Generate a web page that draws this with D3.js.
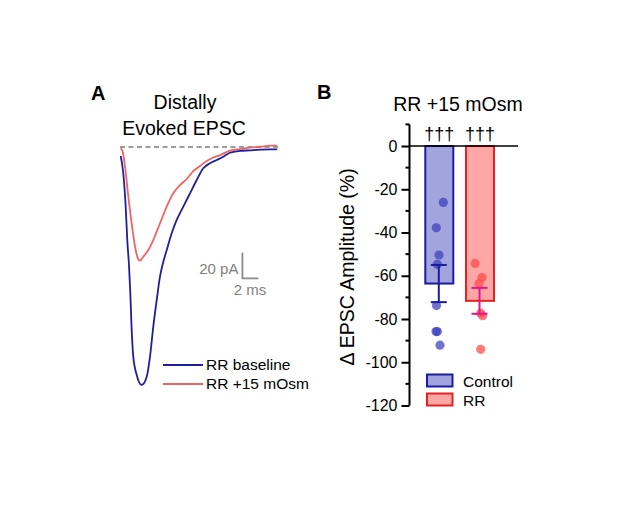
<!DOCTYPE html>
<html><head><meta charset="utf-8">
<script src="https://cdn.jsdelivr.net/npm/d3@7"></script>
<style>body{margin:0;background:#fff}svg{display:block;background:#fff}text{font-family:"Liberation Sans",Arial,sans-serif}</style>
</head><body><svg id="c" width="617" height="505"></svg>
<script>
// ---------- Panel A data (time in ms, current in pA) ----------
const baselineTime = [0.09,0.41,0.71,0.91,1.12,1.29,1.44,1.66,2.09,2.71,3.34,3.75,4.16,4.59,5.0,5.31,5.84,6.46,7.09,7.91,8.75,9.59,10.41,11.25,12.09,12.91,13.75,15.0,16.25,17.5,18.75,19.66];
const baselineCurrent = [-7.0,-20.5,-46.6,-72.7,-92.2,-114.0,-139.8,-163.8,-178.1,-185.9,-179.5,-163.8,-140.4,-119.5,-101.3,-92.2,-80.5,-67.4,-57.0,-46.6,-36.2,-25.8,-16.6,-12.7,-10.2,-7.6,-4.5,-3.1,-2.6,-2.1,-1.8,-1.8];
const osmTime = [0.09,0.34,0.63,1.04,1.46,1.88,2.29,2.5,2.91,3.54,4.16,5.0,5.84,6.66,7.5,8.34,9.16,10.0,10.84,11.66,12.5,13.75,15.0,16.25,17.5,18.75,19.66];
const osmCurrent = [-1.0,-3.7,-15.4,-38.8,-59.6,-77.9,-87.7,-88.8,-85.7,-80.5,-72.7,-59.6,-46.6,-36.2,-29.7,-25.0,-18.8,-14.8,-10.9,-8.2,-6.3,-2.9,-1.6,-0.5,0.2,1.0,1.0];
const traceLabels = ["RR baseline", "RR +15 mOsm"];
const scaleBarTime = 2;      // ms
const scaleBarCurrent = 20;  // pA
const panelATitle = ["Distally", "Evoked EPSC"];

// ---------- Panel B data (% change in EPSC amplitude) ----------
const groups = ["Control", "RR"];
const meanChange = [-63.6, -71.6];
const semChange = [8.6, 6.0];
const controlCells = [-26.1, -37.8, -50.4, -54.7, -73.8, -85.8, -85.8, -92.1];
const rrCells = [-54.3, -60.8, -63.6, -77.3, -78.5, -94.0];
const yTicks = [0, -20, -40, -60, -80, -100, -120];
const yTickLabels = ["0", "-20", "-40", "-60", "-80", "-100", "-120"];
const significance = ["\u2020\u2020\u2020", "\u2020\u2020\u2020"];
const panelBTitle = "RR +15 mOsm";
const yLabel = "\u0394 EPSC Amplitude (%)";

const svg = d3.select("#c");

// ================= Panel A =================
const xA = d3.scaleLinear().domain([0, 20]).range([120, 280]);
const yA = d3.scaleLinear().domain([0, -100]).range([147, 275]);
const blue = "#1f1f9c", red = "#f06464";

svg.append("text").attr("x", 91).attr("y", 100).attr("font-size", 20).attr("font-weight", "bold").text("A");
svg.append("text").attr("x", 185).attr("y", 109).attr("font-size", 19.5).attr("text-anchor", "middle").text(panelATitle[0]);
svg.append("text").attr("x", 184).attr("y", 135).attr("font-size", 19.5).attr("text-anchor", "middle").text(panelATitle[1]);

svg.append("line").attr("x1", xA(0)).attr("x2", xA(20)).attr("y1", yA(0)).attr("y2", yA(0))
  .attr("stroke", "#7c7c7c").attr("stroke-width", 1.6).attr("stroke-dasharray", "5,3.5");

const lineA = d3.line().x(d => xA(d[0])).y(d => yA(d[1])).curve(d3.curveMonotoneX);
svg.append("path").datum(osmTime.map((t, i) => [t, osmCurrent[i]]))
  .attr("d", lineA).attr("fill", "none").attr("stroke", red).attr("stroke-width", 1.8);
svg.append("path").datum(baselineTime.map((t, i) => [t, baselineCurrent[i]]))
  .attr("d", lineA).attr("fill", "none").attr("stroke", blue).attr("stroke-width", 1.8);

// scale bar
const sbT = 15.3, sbI = -102.6;
const sb = svg.append("g").attr("stroke", "#8a8a8a").attr("stroke-width", 1.8).attr("fill", "none");
sb.append("path").attr("d", `M${xA(sbT)},${yA(sbI + scaleBarCurrent)}L${xA(sbT)},${yA(sbI)}L${xA(sbT + scaleBarTime)},${yA(sbI)}`);
svg.append("text").attr("x", xA(sbT) - 4).attr("y", 273.5).attr("font-size", 15).attr("fill", "#808080")
  .attr("text-anchor", "end").text(scaleBarCurrent + " pA");
svg.append("text").attr("x", xA(sbT + scaleBarTime / 2) - 0.5).attr("y", 295).attr("font-size", 15).attr("fill", "#808080")
  .attr("text-anchor", "middle").text(scaleBarTime + " ms");

// legend A
[blue, red].forEach((c, i) => {
  const yy = 365 + i * 19;
  svg.append("line").attr("x1", 163).attr("x2", 203).attr("y1", yy).attr("y2", yy).attr("stroke", c).attr("stroke-width", 1.8);
  svg.append("text").attr("x", 206).attr("y", yy + 5).attr("font-size", 15.5).text(traceLabels[i]);
});

// ================= Panel B =================
const yB = d3.scaleLinear().domain([-120, 10]).range([405.5, 124.4]);
const xB = d3.scaleBand().domain(groups).range([425.3, 494]).paddingInner(0.312).paddingOuter(0);
const axisX = 409.5;

svg.append("text").attr("x", 317).attr("y", 98.5).attr("font-size", 20).attr("font-weight", "bold").text("B");
svg.append("text").attr("x", 458).attr("y", 110.5).attr("font-size", 19.5).attr("text-anchor", "middle").text(panelBTitle);

const fills = ["#a1a4dd", "#ffa7a7"];
const strokes = ["#1c1ca0", "#e42222"];
const dotColors = ["#3d3dbd", "#ff4848"];
const errColors = ["#1c1ca0", "#e5168a"];

// bars
svg.selectAll("rect.bar").data(groups).enter().append("rect").attr("class", "bar")
  .attr("x", d => xB(d)).attr("width", xB.bandwidth())
  .attr("y", yB(0)).attr("height", (d, i) => yB(meanChange[i]) - yB(0))
  .attr("fill", (d, i) => fills[i]).attr("stroke", (d, i) => strokes[i]).attr("stroke-width", 2);

// points
const jitter = [[4, -3, -0.3, -2, -2.8, -3.3, -2, 0.7], [-4.8, 2, -1, 0.7, 2.7, 0.7]];
[controlCells, rrCells].forEach((cells, gi) => {
  const cx = xB(groups[gi]) + xB.bandwidth() / 2;
  svg.selectAll(null).data(cells).enter().append("circle")
    .attr("cx", (d, i) => cx + jitter[gi][i]).attr("cy", d => yB(d)).attr("r", 4.6)
    .attr("fill", dotColors[gi]).attr("fill-opacity", 0.72);
});

// error bars
groups.forEach((g, i) => {
  const cx = xB(g) + xB.bandwidth() / 2 - 0.5;
  const e = svg.append("g").attr("stroke", errColors[i]).attr("stroke-width", 2);
  const hi = yB(meanChange[i] + semChange[i]), lo = yB(meanChange[i] - semChange[i]);
  e.append("line").attr("x1", cx).attr("x2", cx).attr("y1", hi).attr("y2", lo);
  e.append("line").attr("x1", cx - 8).attr("x2", cx + 8).attr("y1", hi).attr("y2", hi);
  e.append("line").attr("x1", cx - 8).attr("x2", cx + 8).attr("y1", lo).attr("y2", lo);
});

// zero line
svg.append("line").attr("x1", axisX).attr("x2", 518).attr("y1", yB(0)).attr("y2", yB(0))
  .attr("stroke", "#000").attr("stroke-width", 1.6);

// y axis
const axisG = svg.append("g").attr("transform", `translate(${axisX},0)`);
axisG.call(d3.axisLeft(yB).tickValues(yTicks).tickSize(8).tickPadding(4)
  .tickFormat(d => yTickLabels[yTicks.indexOf(d)]));
axisG.select(".domain").attr("stroke-width", 2).attr("d", `M0,${yB(10)}V${yB(-120)}`);
axisG.selectAll(".tick line").attr("stroke-width", 2);
axisG.selectAll(".tick text").attr("font-size", 16).attr("font-family", "'Liberation Sans',Arial,sans-serif").attr("fill", "#000");
const minor = d3.range(-110, 20, 20);
axisG.selectAll("line.minor").data(minor).enter().append("line").attr("class", "minor")
  .attr("x1", -4).attr("x2", 0).attr("y1", d => yB(d)).attr("y2", d => yB(d))
  .attr("stroke", "#000").attr("stroke-width", 2);

svg.append("text").attr("transform", `translate(354,${(yB(10) + yB(-120)) / 2 + 2}) rotate(-90)`)
  .attr("font-size", 19.5).attr("text-anchor", "middle").text(yLabel);

// significance
groups.forEach((g, i) => {
  svg.append("text").attr("x", xB(g) + xB.bandwidth() / 2).attr("y", 140).attr("font-size", 18)
    .attr("text-anchor", "middle").text(significance[i]);
});

// legend B
groups.forEach((g, i) => {
  const yy = 374.5 + i * 19;
  svg.append("rect").attr("x", 427).attr("y", yy).attr("width", 25.5).attr("height", 12)
    .attr("fill", fills[i]).attr("stroke", strokes[i]).attr("stroke-width", 2);
  svg.append("text").attr("x", 463).attr("y", yy + 12).attr("font-size", 15.5).text(g);
});
</script></body></html>
